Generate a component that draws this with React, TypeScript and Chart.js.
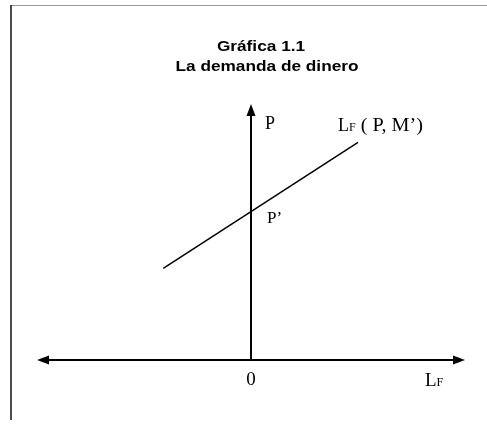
import { useEffect, useRef } from "react";
import { Chart, registerables } from "chart.js";

Chart.register(...registerables);

// Axis domains (origin sits where both axes meet)
const xRange = [-10, 10];
const yRange = [0, 12];

// Money demand curve L_F(P, M')
const lfX = [-4.1, 5.0];
const lfY = [4.3, 10.2];

// Text
const titleLines = ["Gráfica 1.1", "La demanda de dinero"];
const yAxisLabel = "P";
const xAxisLabel = ["L", "F"];
const originLabel = "0";
const curveLabel = ["L", "F", " ( P, M’)"];
const interceptLabel = "P’";

const SANS = '"Liberation Sans", Arial, sans-serif';
const SERIF = '"Liberation Serif", "Times New Roman", serif';

function drawText(
  ctx: CanvasRenderingContext2D,
  text: string,
  x: number,
  y: number,
  font: string,
  sx = 1,
  align: CanvasTextAlign = "left"
): number {
  ctx.save();
  ctx.font = font;
  ctx.textAlign = align;
  ctx.textBaseline = "alphabetic";
  ctx.translate(x, y);
  ctx.scale(sx, 1);
  ctx.fillText(text, 0, 0);
  const w = ctx.measureText(text).width * sx;
  ctx.restore();
  return w;
}

function arrowHead(
  ctx: CanvasRenderingContext2D,
  tipX: number,
  tipY: number,
  dirX: number,
  dirY: number,
  len: number,
  half: number
) {
  const bx = tipX - dirX * len;
  const by = tipY - dirY * len;
  const px = -dirY;
  const py = dirX;
  ctx.beginPath();
  ctx.moveTo(tipX, tipY);
  ctx.lineTo(bx + px * half, by + py * half);
  ctx.lineTo(bx - px * half, by - py * half);
  ctx.closePath();
  ctx.fill();
}

const diagramPlugin = {
  id: "diagram",
  afterDraw(chart: any) {
    const { ctx } = chart;
    const xs = chart.scales.x;
    const ys = chart.scales.y;
    const x0 = xs.getPixelForValue(0);
    const y0 = ys.getPixelForValue(0);
    const xl = xs.getPixelForValue(xRange[0]);
    const xr = xs.getPixelForValue(xRange[1]);
    const yt = ys.getPixelForValue(yRange[1]);

    ctx.save();

    // frame
    ctx.strokeStyle = "#9a9a9a";
    ctx.lineWidth = 1;
    ctx.beginPath();
    ctx.moveTo(11, 5.5);
    ctx.lineTo(487, 5.5);
    ctx.stroke();
    ctx.strokeStyle = "#111";
    ctx.lineWidth = 1.5;
    ctx.beginPath();
    ctx.moveTo(11, 5);
    ctx.lineTo(11, 420);
    ctx.stroke();

    // axes
    ctx.strokeStyle = "#000";
    ctx.fillStyle = "#000";
    ctx.lineWidth = 2;
    ctx.beginPath();
    ctx.moveTo(xl + 8, y0);
    ctx.lineTo(xr - 8, y0);
    ctx.moveTo(x0, y0);
    ctx.lineTo(x0, yt + 8);
    ctx.stroke();
    arrowHead(ctx, xl, y0, -1, 0, 12, 4.5);
    arrowHead(ctx, xr, y0, 1, 0, 12, 4.5);
    arrowHead(ctx, x0, yt, 0, -1, 12, 4.5);

    // title
    ctx.fillStyle = "#000";
    drawText(ctx, titleLines[0], 261, 51, `bold 15px ${SANS}`, 1.15, "center");
    drawText(ctx, titleLines[1], 267, 71, `bold 15px ${SANS}`, 1.15, "center");

    // axis labels
    drawText(ctx, yAxisLabel, x0 + 14, yt + 25, `18px ${SERIF}`);
    drawText(ctx, originLabel, x0, y0 + 25, `19px ${SERIF}`, 1, "center");
    const w = drawText(ctx, xAxisLabel[0], xr - 40, y0 + 26, `19px ${SERIF}`);
    drawText(ctx, xAxisLabel[1], xr - 40 + w, y0 + 26, `12px ${SERIF}`);

    // curve label at the upper end of the curve
    const ex = xs.getPixelForValue(lfX[lfX.length - 1]);
    const ey = ys.getPixelForValue(lfY[lfY.length - 1]);
    let cx = ex - 20;
    const cy = ey - 11;
    cx += drawText(ctx, curveLabel[0], cx, cy, `18px ${SERIF}`);
    cx += drawText(ctx, curveLabel[1], cx, cy, `12px ${SERIF}`);
    drawText(ctx, curveLabel[2], cx, cy, `18px ${SERIF}`, 1.12);

    // intercept label where the curve crosses the vertical axis
    const t = (0 - lfX[0]) / (lfX[1] - lfX[0]);
    const yInt = lfY[0] + t * (lfY[1] - lfY[0]);
    drawText(ctx, interceptLabel, x0 + 16, ys.getPixelForValue(yInt) + 11, `17px ${SERIF}`);

    ctx.restore();
  },
};

export default function App() {
  const ref = useRef<HTMLCanvasElement>(null);

  useEffect(() => {
    const chart = new Chart(ref.current as HTMLCanvasElement, {
      type: "scatter",
      data: {
        datasets: [
          {
            data: lfX.map((v, i) => ({ x: v, y: lfY[i] })),
            showLine: true,
            borderColor: "#000",
            borderWidth: 1.5,
            pointRadius: 0,
          },
        ],
      },
      options: {
        responsive: false,
        animation: false,
        events: [],
        layout: { padding: { left: 37, right: 22, top: 104, bottom: 64 } },
        scales: {
          x: { type: "linear", display: false, min: xRange[0], max: xRange[1] },
          y: { type: "linear", display: false, min: yRange[0], max: yRange[1] },
        },
        plugins: {
          legend: { display: false },
          tooltip: { enabled: false },
        },
      },
      plugins: [diagramPlugin],
    });
    return () => chart.destroy();
  }, []);

  return (
    <div style={{ position: "fixed", left: 0, top: 0, width: 487, height: 424, background: "#fff" }}>
      <canvas ref={ref} width={487} height={424} style={{ display: "block" }} />
    </div>
  );
}
